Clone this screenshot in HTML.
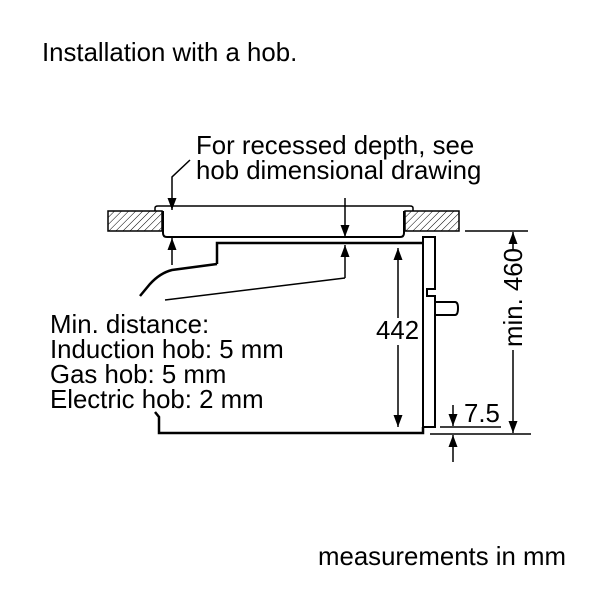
<!DOCTYPE html>
<html><head><style>body{margin:0;background:#fff}svg{display:block}</style></head><body>
<svg width="600" height="600" viewBox="0 0 600 600" xmlns="http://www.w3.org/2000/svg" font-family="Liberation Sans, sans-serif" fill="none" stroke="#000">
<defs>
<pattern id="h" width="5" height="5" patternUnits="userSpaceOnUse" patternTransform="rotate(45)"><line x1="0" y1="0" x2="0" y2="5" stroke="#000" stroke-width="1"/></pattern>
<marker id="a" markerWidth="12" markerHeight="9" refX="12" refY="4.5" orient="auto" markerUnits="userSpaceOnUse"><path d="M0,0 L12,4.5 L0,9z" fill="#000" stroke="none"/></marker>
</defs>
<g fill="#000" stroke="none" font-size="25.8">
<text x="42" y="61">Installation with a hob.</text>
<text x="196" y="154">For recessed depth, see</text>
<text x="196" y="179">hob dimensional drawing</text>
<text x="50" y="333">Min. distance:</text>
<text x="50" y="358">Induction hob: 5 mm</text>
<text x="50" y="383">Gas hob: 5 mm</text>
<text x="50" y="408">Electric hob: 2 mm</text>
<text x="376" y="339">442</text>
<text x="464" y="422">7.5</text>
<text x="318" y="565">measurements in mm</text>
<text transform="translate(522,347) rotate(-90)">min. 460</text>
</g>
<g stroke-width="1.5">
<rect x="108" y="211" width="54" height="20" fill="url(#h)"/>
<rect x="405" y="211" width="54" height="20" fill="url(#h)"/>
<path d="M155,211 L155,208 Q155,206 158,206 L410,206 Q413,206 413,208 L413,211"/>
<path d="M163,211 L163,233 Q163,237 167,237 L400,237 Q404,237 404,233 L404,211" stroke-width="2"/>
<path d="M217,264 L217,243 L423,243" stroke-width="2.5"/>
<path d="M217,264 L172,270 Q160,273 150,284 L140,296" stroke-width="2.5"/>
<path d="M345,278 L165,300"/>
<path d="M423,237 L435,237 L435,289 L427,289 L427,296 L435,296 L435,427 L423,427 Z" stroke-width="2"/>
<path d="M435,302 L455,302 Q458,302 458,308 Q458,315 455,315 L435,315" stroke-width="2"/>
<path d="M155,412 L159,417 L159,433 L423,433 L423,427" stroke-width="2.5"/>
<line x1="465" y1="231" x2="528" y2="231"/>
<line x1="430" y1="434" x2="531" y2="434"/>
<line x1="440" y1="427" x2="501" y2="427"/>
</g>
<g stroke-width="1.5" marker-end="url(#a)">
<path d="M190,160 L172,177 L172,210"/>
<line x1="172" y1="265" x2="172" y2="238"/>
<line x1="345" y1="198" x2="345" y2="237"/>
<line x1="345" y1="278" x2="345" y2="245"/>
<line x1="398" y1="318" x2="398" y2="248"/>
<line x1="398" y1="345" x2="398" y2="427"/>
<line x1="513" y1="249" x2="513" y2="232"/>
<line x1="513" y1="350" x2="513" y2="433"/>
<line x1="453" y1="405" x2="453" y2="426"/>
<line x1="453" y1="462" x2="453" y2="435"/>
</g>
</svg>
</body></html>
